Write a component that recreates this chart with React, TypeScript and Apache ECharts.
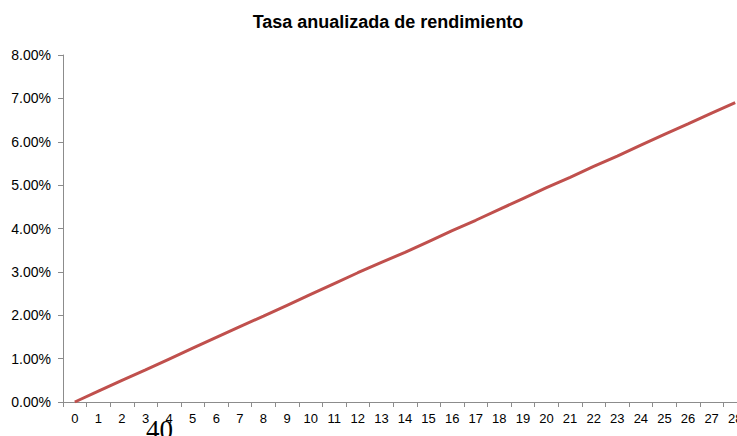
import React, { useEffect, useRef } from "react";
import * as echarts from "echarts";

const years: string[] = [
  "0","1","2","3","4","5","6","7","8","9","10","11","12","13","14",
  "15","16","17","18","19","20","21","22","23","24","25","26","27","28",
];
const rate: number[] = [
  0, 0.25, 0.5, 0.74, 0.99, 1.24, 1.49, 1.74, 1.98, 2.23, 2.48, 2.73, 2.98, 3.22, 3.45,
  3.7, 3.95, 4.19, 4.44, 4.69, 4.94, 5.18, 5.43, 5.67, 5.92, 6.17, 6.41, 6.66, 6.9,
];
const titleText = "Tasa anualizada de rendimiento";
const strayText = "40";

export default function App() {
  const ref = useRef<HTMLDivElement>(null);
  useEffect(() => {
    if (!ref.current) return;
    const chart = echarts.init(ref.current, null, { renderer: "svg" });
    chart.setOption({
      animation: false,
      backgroundColor: "#ffffff",
      title: {
        text: titleText,
        left: 383,
        textAlign: "center",
        top: 8,
        textStyle: {
          fontFamily: "Liberation Sans, Arial, sans-serif",
          fontWeight: "bold",
          fontSize: 18,
          color: "#000",
        },
      },
      grid: { left: 63, top: 55, right: 13, bottom: 34, containLabel: false },
      xAxis: {
        type: "category",
        data: years,
        boundaryGap: true,
        axisLine: { lineStyle: { color: "#8c8c8c", width: 1 } },
        axisTick: { show: true, length: 5, lineStyle: { color: "#8c8c8c" } },
        axisLabel: {
          interval: 0,
          margin: 10,
          fontFamily: "Liberation Sans, Arial, sans-serif",
          fontSize: 13,
          color: "#000",
        },
        splitLine: { show: false },
      },
      yAxis: {
        type: "value",
        min: 0,
        max: 8,
        interval: 1,
        axisLine: { show: true, lineStyle: { color: "#8c8c8c", width: 1 } },
        axisTick: { show: true, length: 5, lineStyle: { color: "#8c8c8c" } },
        axisLabel: {
          margin: 12,
          fontFamily: "Liberation Sans, Arial, sans-serif",
          fontSize: 14,
          color: "#000",
          formatter: (v: number) => v.toFixed(2) + "%",
        },
        splitLine: { show: false },
      },
      series: [
        {
          type: "line",
          data: rate,
          symbol: "none",
          lineStyle: { color: "#C0504D", width: 3 },
          itemStyle: { color: "#C0504D" },
        },
      ],
      graphic: [
        {
          type: "text",
          left: 146,
          top: 416,
          style: {
            text: strayText,
            font: "27px 'Liberation Serif', serif",
            fill: "#000",
          },
        },
      ],
    });
    return () => chart.dispose();
  }, []);
  return (
    <div
      style={{
        position: "fixed",
        left: 0,
        top: 0,
        width: 737,
        height: 436,
        overflow: "hidden",
        background: "#fff",
      }}
    >
      <div ref={ref} style={{ width: 760, height: 436 }} />
    </div>
  );
}
